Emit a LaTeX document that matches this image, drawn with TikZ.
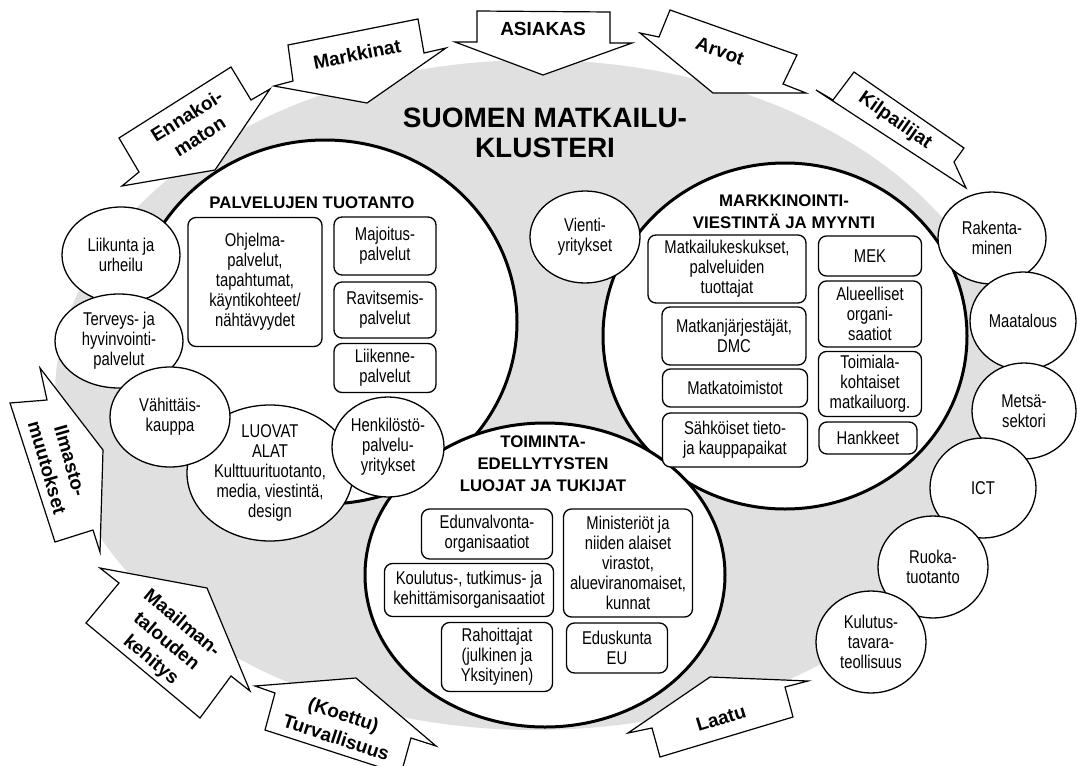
\documentclass[tikz,border=0pt]{standalone}
\usepackage{fontspec}
\setmainfont{Liberation Sans}[FakeStretch=0.8]
\newfontfamily\vahva{Liberation Sans}
\usetikzlibrary{shapes.geometric}

\definecolor{taustaharmaa}{gray}{0.88}
\newcommand{\pienteksti}{\fontsize{18.5}{20}\selectfont}
\newcommand{\otsikkoteksti}{\vahva\bfseries\fontsize{16.8}{22}\selectfont}
\newcommand{\voimateksti}{\vahva\bfseries\fontsize{19}{24}\selectfont}
\newcommand{\nimiteksti}{\vahva\bfseries\fontsize{28}{30}\selectfont}

\begin{document}
\begin{tikzpicture}[x=1pt, y=-1pt,
  every node/.style={font=\pienteksti, align=center, inner sep=0pt},
  tausta/.style={ellipse, fill=taustaharmaa},
  iso/.style={ellipse, draw, line width=3pt, fill=white},
  pallo/.style={ellipse, draw, line width=1.3pt, fill=white},
  laatikko/.style={draw, rounded corners=8pt, line width=1.3pt, fill=white},
  otsikko/.style={font=\otsikkoteksti},
  voima/.style={draw, line width=1.2pt, fill=white, line join=miter},
  voimanimi/.style={font=\voimateksti}]

\useasboundingbox (0,0) rectangle (1077,766);

% harmaa tausta
\node[tausta, minimum width=960, minimum height=670] (klusteri) at (535,395) {};

% ulkoiset voimat
\draw[voima] (477,11) -- (610,12) -- (610,43) -- (632,43) -- (543,75) -- (455,42) -- (477,42) -- cycle;
\node[voimanimi] (asiakas) at (543,29) {ASIAKAS};
\draw[voima] (288,45) -- (418,19) -- (424,53) -- (446,48) -- (367,103) -- (274,86) -- (293,81) -- cycle;
\node[voimanimi, rotate=11] (markkinat) at (357,54) {Markkinat};
\draw[voima] (119,138) -- (231,67) -- (251,100) -- (270,89) -- (215,170) -- (122,186) -- (139,172) -- cycle;
\node[voimanimi, rotate=32] (ennakoimaton) at (193,126) {Ennakoi-\\maton};
\draw[voima] (670,10) -- (797,55) -- (783,84) -- (806,93) -- (713,93) -- (640,33) -- (659,37) -- cycle;
\node[voimanimi, rotate=-20] (arvot) at (720,51) {Arvot};
\draw[voima] (854,72) -- (964,148) -- (954,162) -- (966,188) -- (816,90) -- (833,100) -- cycle;
\node[voimanimi, rotate=-35] (kilpailijat) at (895,121) {Kilpailijat};
\draw[voima] (10,403) -- (47,400) -- (40,368) -- (103,450) -- (100,552) -- (93,530) -- (55,542) -- cycle;
\node[voimanimi, rotate=-74] (ilmasto) at (59,464) {Ilmasto-\\muutokset};
\draw[voima] (100,568) -- (119,583) -- (86,623) -- (200,718) -- (231,676) -- (250,691) -- (207,588) -- cycle;
\node[voimanimi, rotate=-40] (maailma) at (166,642) {Maailman-\\talouden\\kehitys};
\draw[voima] (255,686) -- (275,693) -- (265,730) -- (401,774) -- (411,738) -- (436,746) -- (356,678) -- cycle;
\node[voimanimi, rotate=-18] (turvallisuus) at (340,726) {(Koettu)\\Turvallisuus};
\draw[voima] (628,733) -- (652,728) -- (660,757) -- (793,717) -- (785,687) -- (808,681) -- (710,677) -- cycle;
\node[voimanimi, rotate=17] (laatu) at (721,718) {Laatu};

% otsikko
\node[font=\nimiteksti] (nimi) at (545,133) {SUOMEN MATKAILU-\\KLUSTERI};

% kolme ydinta
\node[iso, minimum width=384, minimum height=364] (palvelut) at (325,322) {};
\node[iso, minimum width=364, minimum height=346] (markkinointi) at (785,336) {};
\node[iso, minimum width=360, minimum height=304] (toiminta) at (545,575) {};

\node[otsikko] (palvotsikko) at (312,203) {PALVELUJEN TUOTANTO};
\node[otsikko] (markotsikko) at (784,212) {MARKKINOINTI-\\VIESTINTÄ JA MYYNTI};
\node[otsikko] (toimotsikko) at (543,464) {TOIMINTA-\\EDELLYTYSTEN\\LUOJAT JA TUKIJAT};

% palvelujen tuotanto
\node[laatikko, minimum width=134, minimum height=129] (ohjelma) at (255,282) {Ohjelma-\\palvelut,\\tapahtumat,\\käyntikohteet/\\nähtävyydet};
\node[laatikko, minimum width=102, minimum height=58] (majoitus) at (385,246) {Majoitus-\\palvelut};
\node[laatikko, minimum width=102, minimum height=56] (ravitsemis) at (385,310) {Ravitsemis-\\palvelut};
\node[laatikko, minimum width=102, minimum height=49] (liikenne) at (385,368) {Liikenne-\\palvelut};

% markkinointi
\node[laatikko, minimum width=158, minimum height=68] (keskukset) at (727,269) {Matkailukeskukset,\\palveluiden\\tuottajat};
\node[laatikko, minimum width=144, minimum height=58] (jarjestajat) at (734,336) {Matkanjärjestäjät,\\DMC};
\node[laatikko, minimum width=145, minimum height=38] (toimistot) at (735,388) {Matkatoimistot};
\node[laatikko, minimum width=145, minimum height=54] (sahkoiset) at (735,440) {Sähköiset tieto-\\ja kauppapaikat};
\node[laatikko, minimum width=103, minimum height=40] (mek) at (870,256) {MEK};
\node[laatikko, minimum width=103, minimum height=66] (alueelliset) at (870,314) {Alueelliset\\organi-\\saatiot};
\node[laatikko, minimum width=103, minimum height=65] (toimiala) at (870,384) {Toimiala-\\kohtaiset\\matkailuorg.};
\node[laatikko, minimum width=98, minimum height=32] (hankkeet) at (868,438) {Hankkeet};

% toimintaedellytykset
\node[laatikko, minimum width=131, minimum height=50] (edunvalvonta) at (487,534) {Edunvalvonta-\\organisaatiot};
\node[laatikko, minimum width=169, minimum height=53] (koulutus) at (469,590) {Koulutus-, tutkimus- ja\\kehittämisorganisaatiot};
\node[laatikko, minimum width=111, minimum height=69] (rahoittajat) at (497,657) {Rahoittajat\\(julkinen ja\\Yksityinen)};
\node[laatikko, minimum width=129, minimum height=108] (ministeriot) at (628,563) {Ministeriöt ja\\niiden alaiset\\virastot,\\alueviranomaiset,\\kunnat};
\node[laatikko, minimum width=101, minimum height=50] (eduskunta) at (617,648) {Eduskunta\\EU};

% lahialat
\node[pallo, minimum width=118, minimum height=96, label={center:{Liikunta ja\\urheilu}}] (liikunta) at (121,255) {};
\node[pallo, minimum width=128, minimum height=94, label={center:{Terveys- ja\\hyvinvointi-\\palvelut}}] (terveys) at (119,341) {};
\node[pallo, minimum width=166, minimum height=136, label={center:{LUOVAT\\ALAT\\Kulttuurituotanto,\\media, viestintä,\\design}}] (luovat) at (270,473) {};
\node[pallo, minimum width=120, minimum height=100, label={center:{Vähittäis-\\kauppa}}] (vahittais) at (170,417) {};
\node[pallo, minimum width=112, minimum height=100, label={center:{Henkilöstö-\\palvelu-\\yritykset}}] (henkilosto) at (388,447) {};
\node[pallo, minimum width=110, minimum height=92, label={center:{Vienti-\\yritykset}}] (vienti) at (585,237) {};

\node[pallo, minimum width=108, minimum height=92, label={center:{Rakenta-\\minen}}] (rakentaminen) at (992,238) {};
\node[pallo, minimum width=106, minimum height=98, label={center:Maatalous}] (maatalous) at (1023,321) {};
\node[pallo, minimum width=104, minimum height=96, label={center:{Metsä-\\sektori}}] (metsa) at (1024,411) {};
\node[pallo, minimum width=106, minimum height=100, label={center:ICT}] (ict) at (983,488) {};
\node[pallo, minimum width=110, minimum height=102, label={center:{Ruoka-\\tuotanto}}] (ruoka) at (933,567) {};
\node[pallo, minimum width=110, minimum height=102, label={center:{Kulutus-\\tavara-\\teollisuus}}] (kulutus) at (871,642) {};
\end{tikzpicture}
\end{document}
